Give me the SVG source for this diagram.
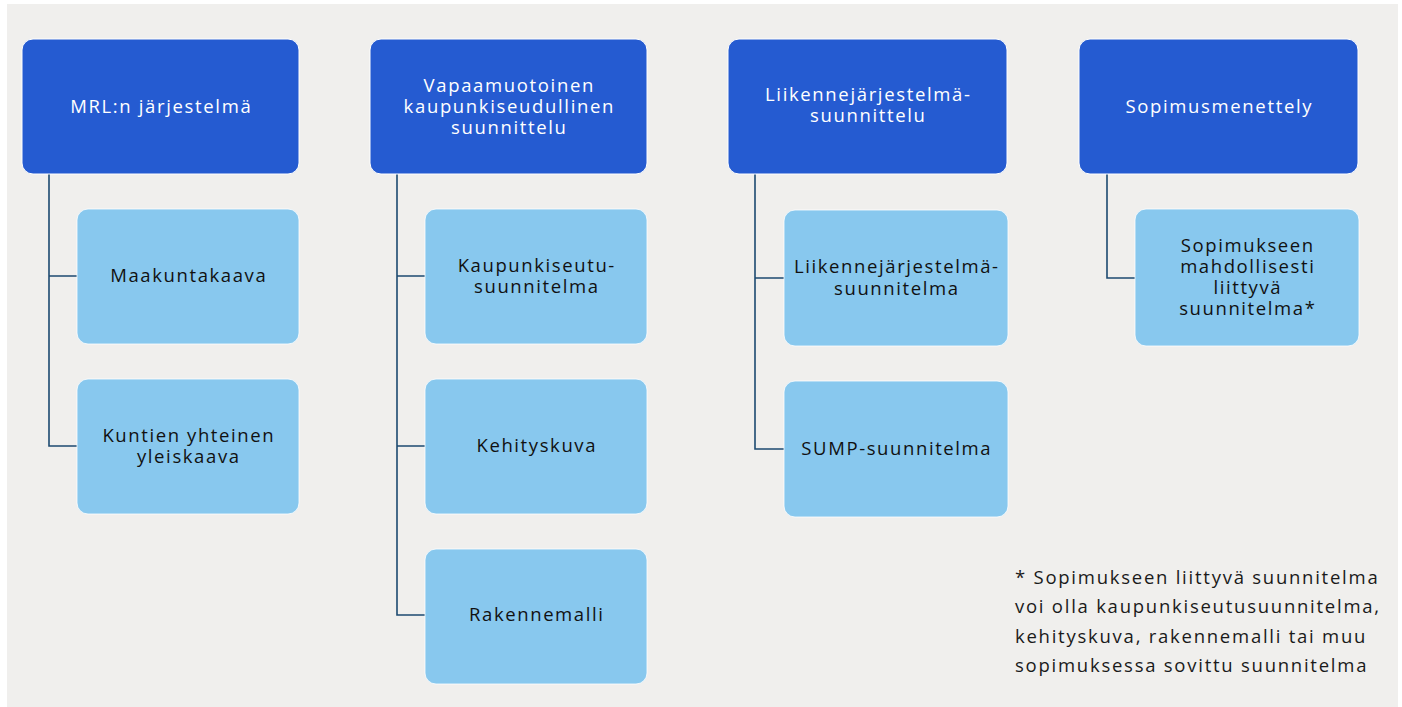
<svg xmlns="http://www.w3.org/2000/svg" width="1402" height="707" viewBox="0 0 1402 707">
<style>
.bg{fill:#f0efed}
.p{fill:#255bd1;stroke:#ffffff;stroke-width:1}
.c{fill:#88c8ee;stroke:#ffffff;stroke-width:0.8}
.tp{font-family:"Open Sans","Liberation Sans",sans-serif;font-size:18.5px;letter-spacing:1.65px;fill:#ffffff;text-anchor:middle}
.tc{font-family:"Open Sans","Liberation Sans",sans-serif;font-size:18.5px;letter-spacing:1.6px;fill:#111111;text-anchor:middle}
.fn{font-family:"Open Sans","Liberation Sans",sans-serif;font-size:18.5px;letter-spacing:1.75px;fill:#1a1a1a}
.ln{fill:none;stroke:#1d4a70;stroke-width:1.6}
</style>
<rect class="bg" x="7" y="4" width="1391" height="703"/>
<g id="connectors">
<path class="ln" d="M49 174 V446 H77 M49 276 H77"/>
<path class="ln" d="M397 174 V615 H425 M397 276 H425 M397 446 H425"/>
<path class="ln" d="M755 174 V449 H784 M755 278 H784"/>
<path class="ln" d="M1107 174 V278 H1135"/>
</g>
<g id="n-mrl"><rect class="p" x="22" y="39" width="277" height="135" rx="11"/><text class="tp" x="161.3" y="113">MRL:n järjestelmä</text></g>
<g id="n-maakuntakaava"><rect class="c" x="77" y="209" width="222" height="135" rx="11"/><text class="tc" x="188.8" y="282">Maakuntakaava</text></g>
<g id="n-kuntien"><rect class="c" x="77" y="379" width="222" height="135" rx="11"/><text class="tc" x="188.8" y="442">Kuntien yhteinen</text><text class="tc" x="188.8" y="463">yleiskaava</text></g>
<g id="n-vapaa"><rect class="p" x="370" y="39" width="277" height="135" rx="11"/><text class="tp" x="509.3" y="92">Vapaamuotoinen</text><text class="tp" x="509.3" y="113">kaupunkiseudullinen</text><text class="tp" x="509.3" y="134">suunnittelu</text></g>
<g id="n-kaupunkiseutu"><rect class="c" x="425" y="209" width="222" height="135" rx="11"/><text class="tc" x="536.8" y="272">Kaupunkiseutu-</text><text class="tc" x="536.8" y="293">suunnitelma</text></g>
<g id="n-kehityskuva"><rect class="c" x="425" y="379" width="222" height="135" rx="11"/><text class="tc" x="536.8" y="452">Kehityskuva</text></g>
<g id="n-rakennemalli"><rect class="c" x="425" y="549" width="222" height="135" rx="11"/><text class="tc" x="536.8" y="621">Rakennemalli</text></g>
<g id="n-liikenne"><rect class="p" x="728" y="39" width="279" height="135" rx="11"/><text class="tp" x="868.3" y="101">Liikennejärjestelmä-</text><text class="tp" x="868.3" y="122">suunnittelu</text></g>
<g id="n-ljs"><rect class="c" x="784" y="210" width="224" height="136" rx="11"/><text class="tc" x="896.8" y="273">Liikennejärjestelmä-</text><text class="tc" x="896.8" y="295">suunnitelma</text></g>
<g id="n-sump"><rect class="c" x="784" y="381" width="224" height="136" rx="11"/><text class="tc" x="896.8" y="455">SUMP-suunnitelma</text></g>
<g id="n-sopimus"><rect class="p" x="1079" y="39" width="279" height="135" rx="11"/><text class="tp" x="1219.3" y="113">Sopimusmenettely</text></g>
<g id="n-sopsuun"><rect class="c" x="1135" y="209" width="224" height="137" rx="11"/><text class="tc" x="1247.8" y="252">Sopimukseen</text><text class="tc" x="1247.8" y="273">mahdollisesti</text><text class="tc" x="1247.8" y="294">liittyvä</text><text class="tc" x="1247.8" y="315">suunnitelma*</text></g>
<g id="footnote"><text class="fn" x="1015" y="584">* Sopimukseen liittyvä suunnitelma</text><text class="fn" x="1015" y="613">voi olla kaupunkiseutusuunnitelma,</text><text class="fn" x="1015" y="643">kehityskuva, rakennemalli tai muu</text><text class="fn" x="1015" y="672">sopimuksessa sovittu suunnitelma</text></g>
</svg>
